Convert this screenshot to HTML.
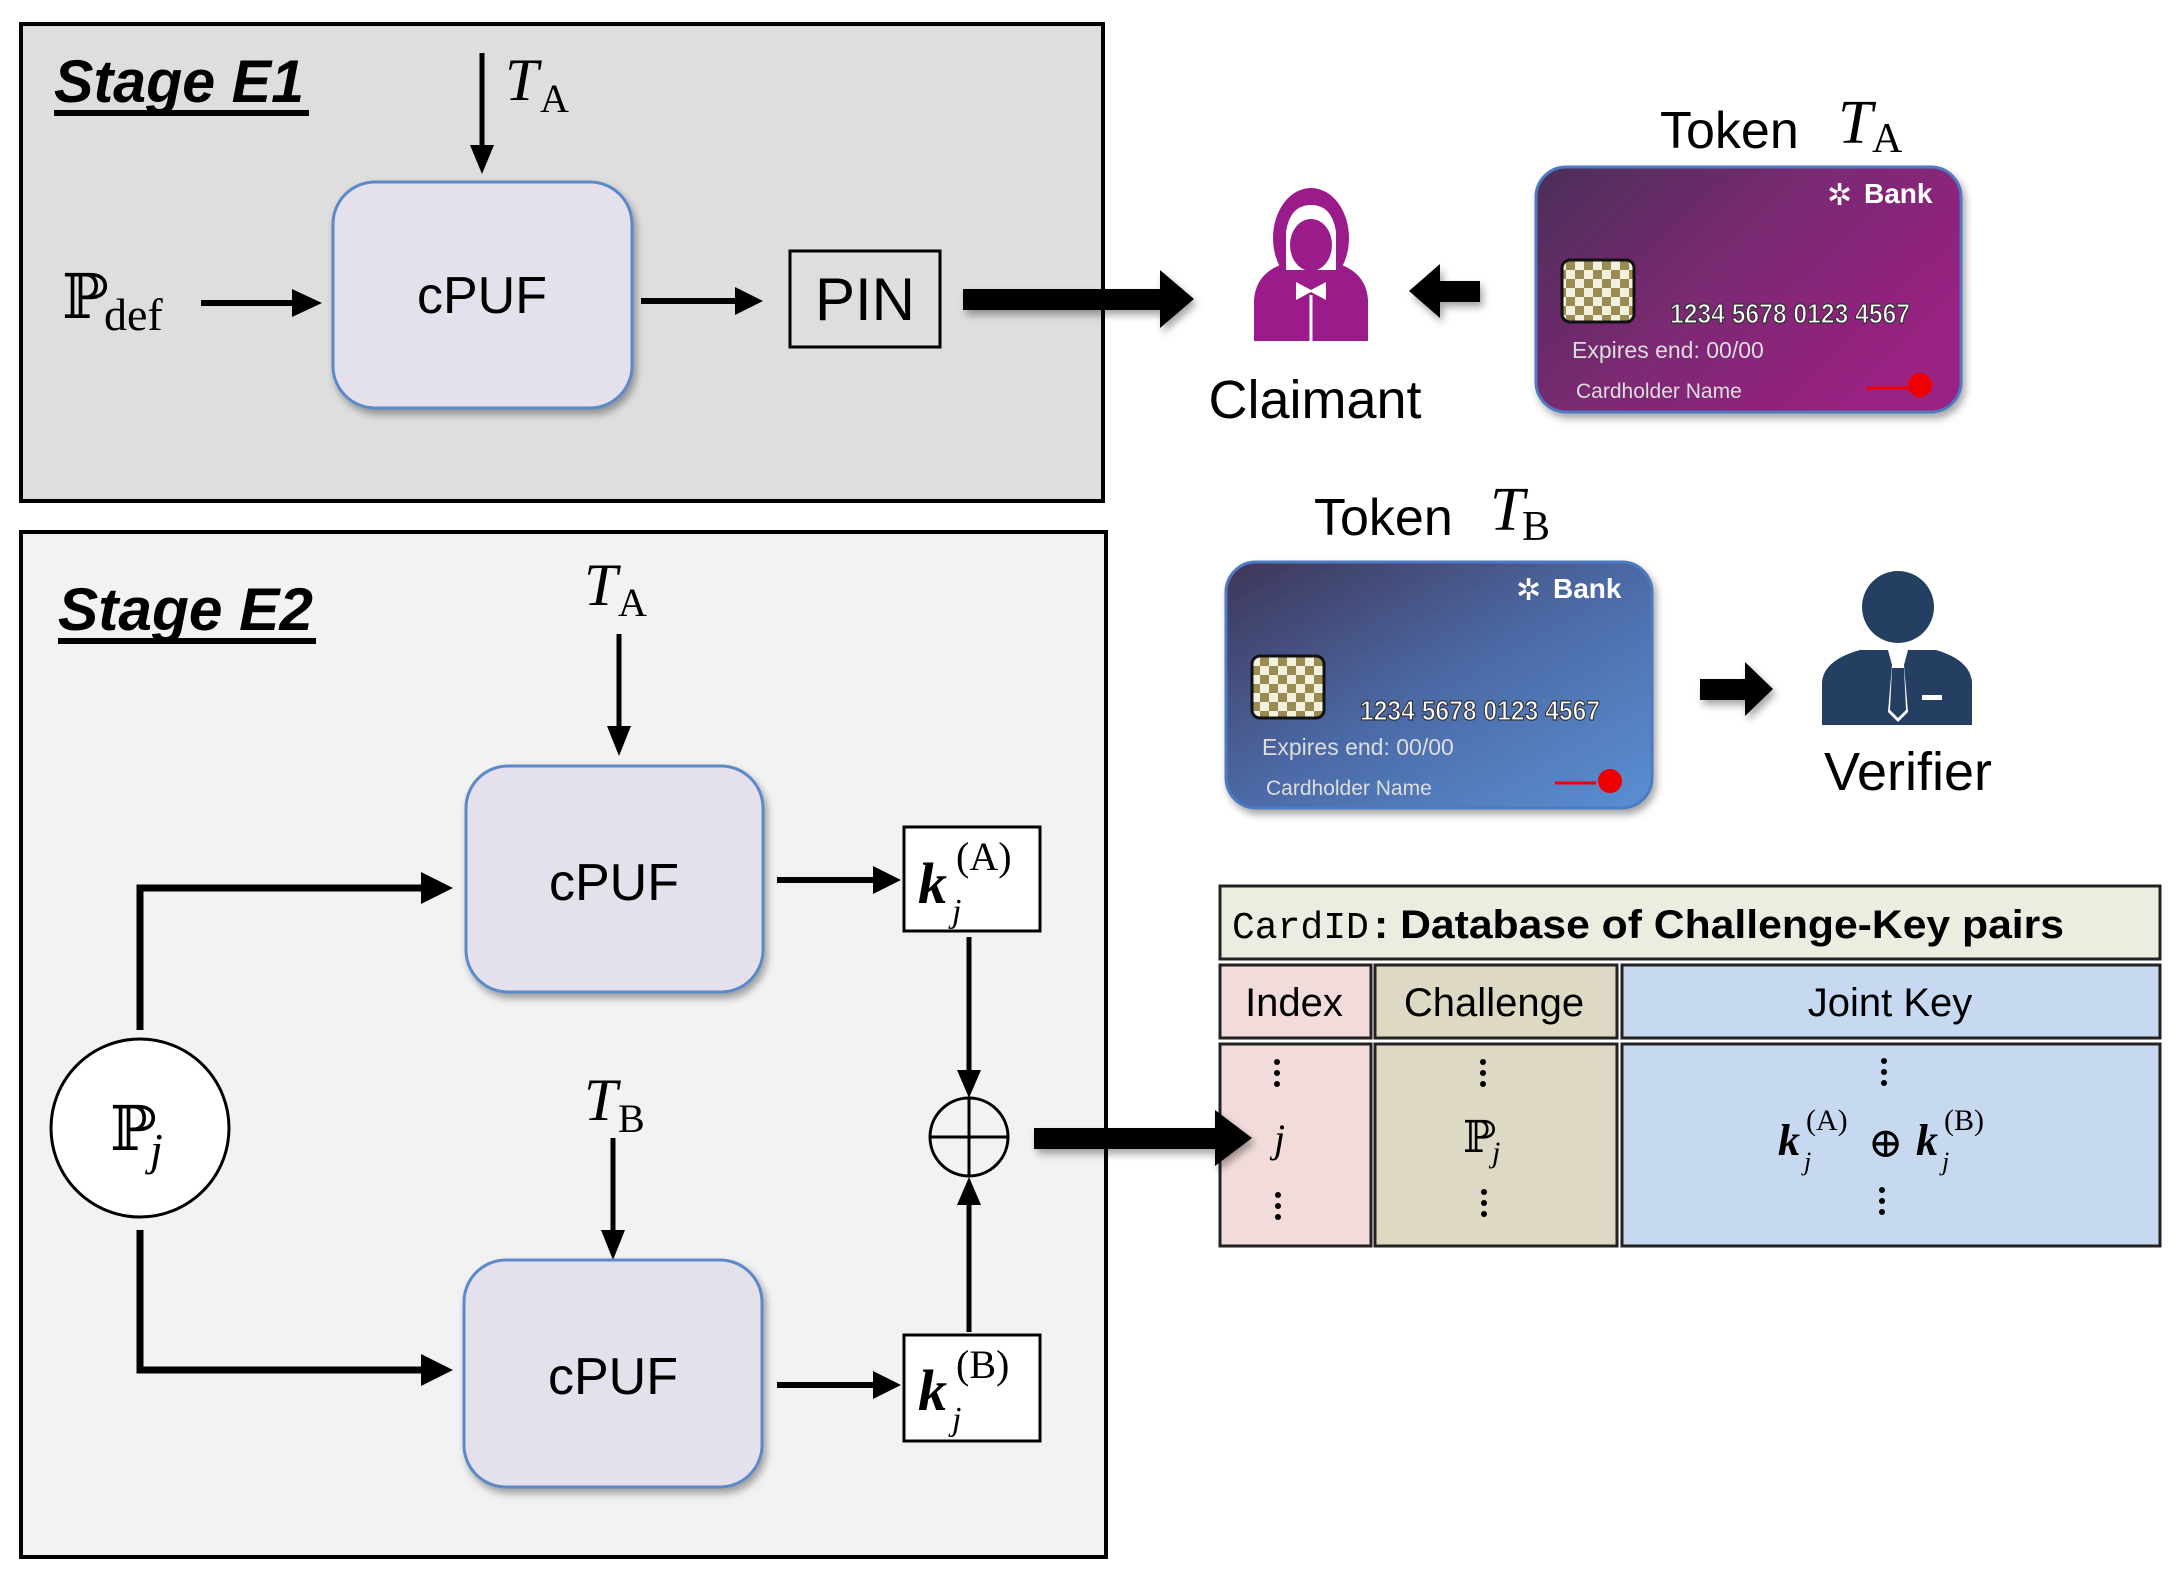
<!DOCTYPE html>
<html><head><meta charset="utf-8"><style>
html,body{margin:0;padding:0;background:#fff;}
svg{display:block;}
.s{font-family:"Liberation Sans",sans-serif;}
.m{font-family:"Liberation Serif","DejaVu Serif",serif;}
</style></head><body>
<svg width="2176" height="1581" viewBox="0 0 2176 1581" xmlns="http://www.w3.org/2000/svg">
<defs>
<linearGradient id="ga" x1="0" y1="0" x2="1" y2="0.6"><stop offset="0" stop-color="#4a2f58"/><stop offset="0.5" stop-color="#7a2a72"/><stop offset="1" stop-color="#9a2082"/></linearGradient>
<linearGradient id="gb" x1="0" y1="0" x2="1" y2="1"><stop offset="0" stop-color="#3e3558"/><stop offset="0.5" stop-color="#4c6aa6"/><stop offset="1" stop-color="#5a8fd4"/></linearGradient>
<pattern id="chk" width="18" height="18" patternUnits="userSpaceOnUse"><rect width="18" height="18" fill="#9a8c50"/><rect width="9" height="9" fill="#f4f0e0"/><rect x="9" y="9" width="9" height="9" fill="#f4f0e0"/></pattern>
<filter id="sh" x="-10%" y="-10%" width="130%" height="130%"><feDropShadow dx="3" dy="5" stdDeviation="4" flood-color="#000" flood-opacity="0.35"/></filter>
</defs>

<!-- Stage E1 -->
<rect x="21" y="24" width="1082" height="477" fill="#dedede" stroke="#000" stroke-width="4"/>
<text x="54" y="102" class="s" font-size="60" font-weight="bold" font-style="italic" textLength="250" lengthAdjust="spacingAndGlyphs">Stage E1</text>
<rect x="54" y="110" width="255" height="6" fill="#000"/>
<line x1="482" y1="53" x2="482" y2="150" stroke="#000" stroke-width="5"/>
<polygon points="470,145 494,145 482,174" fill="#000"/>
<text x="505" y="100" class="m" font-size="60" font-style="italic">T</text>
<text x="540" y="112" class="m" font-size="40">A</text>
<rect x="333" y="182" width="299" height="226" rx="42" fill="#e4e0ec" stroke="#5b8ac8" stroke-width="3" filter="url(#sh)"/>
<text x="482" y="313" class="s" font-size="52" text-anchor="middle">cPUF</text>
<text x="62" y="318" class="m" font-size="62">ℙ</text>
<text x="104" y="330" class="m" font-size="46">def</text>
<line x1="201" y1="303" x2="298" y2="303" stroke="#000" stroke-width="6"/>
<polygon points="292,289 292,317 322,303" fill="#000"/>
<line x1="641" y1="301" x2="740" y2="301" stroke="#000" stroke-width="6"/>
<polygon points="735,287 735,315 763,301" fill="#000"/>
<rect x="790" y="251" width="150" height="96" fill="none" stroke="#000" stroke-width="3"/>
<text x="865" y="320" class="s" font-size="60" text-anchor="middle">PIN</text>
<g filter="url(#sh)">
<rect x="963" y="289" width="200" height="21" fill="#000"/>
<polygon points="1160,270 1194,299 1160,328" fill="#000"/>
</g>

<!-- Claimant -->
<g fill="#9b1b8a">
<ellipse cx="1311" cy="238" rx="38" ry="50"/>
<path d="M1254,341 L1254,300 Q1256,270 1290,262 L1332,262 Q1366,270 1368,300 L1368,341 Z"/>
</g>
<path d="M1286,232 Q1290,205 1311,205 Q1332,205 1336,232 L1336,270 L1286,270 Z" fill="#fff"/>
<ellipse cx="1311" cy="245" rx="21" ry="26" fill="#9b1b8a"/>
<path d="M1296,282 L1311,290 L1326,282 L1326,300 L1311,292 L1296,300 Z" fill="#fff"/>
<line x1="1311" y1="295" x2="1311" y2="341" stroke="#fff" stroke-width="3"/>
<text x="1315" y="418" class="s" font-size="54" text-anchor="middle">Claimant</text>
<g filter="url(#sh)">
<rect x="1438" y="281" width="42" height="21" fill="#000"/>
<polygon points="1440,264 1409,291 1440,318" fill="#000"/>
</g>

<!-- Token A -->
<text x="1660" y="148" class="s" font-size="52">Token</text>
<text x="1838" y="143" class="m" font-size="62" font-style="italic">T</text>
<text x="1872" y="152" class="m" font-size="42">A</text>
<rect x="1536" y="167" width="425" height="245" rx="30" fill="url(#ga)" stroke="#4d7ac0" stroke-width="3" filter="url(#sh)"/>
<text x="1827" y="205" class="s" font-size="30" fill="#fff">✲</text>
<text x="1864" y="203" class="s" font-size="28" font-weight="bold" fill="#fff">Bank</text>
<rect x="1562" y="260" width="72" height="62" rx="8" fill="url(#chk)" stroke="#111" stroke-width="3"/>
<text x="1670" y="323" class="s" font-size="28" font-weight="bold" fill="#fff" stroke="#333" stroke-width="1.2" textLength="240" lengthAdjust="spacingAndGlyphs">1234 5678 0123 4567</text>
<text x="1572" y="358" class="s" font-size="23" fill="#ddd">Expires end:  00/00</text>
<text x="1576" y="398" class="s" font-size="21" fill="#ddd">Cardholder Name</text>
<line x1="1866" y1="388" x2="1908" y2="388" stroke="#e00" stroke-width="3"/>
<circle cx="1920" cy="385" r="12" fill="#e00"/>

<!-- Token B -->
<text x="1314" y="535" class="s" font-size="52">Token</text>
<text x="1490" y="530" class="m" font-size="62" font-style="italic">T</text>
<text x="1522" y="540" class="m" font-size="42">B</text>
<rect x="1226" y="562" width="426" height="246" rx="30" fill="url(#gb)" stroke="#4d7ac0" stroke-width="3" filter="url(#sh)"/>
<text x="1516" y="600" class="s" font-size="30" fill="#fff">✲</text>
<text x="1553" y="598" class="s" font-size="28" font-weight="bold" fill="#fff">Bank</text>
<rect x="1252" y="656" width="72" height="62" rx="8" fill="url(#chk)" stroke="#111" stroke-width="3"/>
<text x="1360" y="720" class="s" font-size="28" font-weight="bold" fill="#fff" stroke="#333" stroke-width="1.2" textLength="240" lengthAdjust="spacingAndGlyphs">1234 5678 0123 4567</text>
<text x="1262" y="755" class="s" font-size="23" fill="#ddd">Expires end:  00/00</text>
<text x="1266" y="795" class="s" font-size="21" fill="#ddd">Cardholder Name</text>
<line x1="1555" y1="783" x2="1596" y2="783" stroke="#e00" stroke-width="3"/>
<circle cx="1610" cy="781" r="12" fill="#e00"/>
<g filter="url(#sh)">
<rect x="1700" y="679" width="47" height="21" fill="#000"/>
<polygon points="1745,662 1773,689 1745,716" fill="#000"/>
</g>

<!-- Verifier -->
<g fill="#243f62">
<circle cx="1898" cy="607" r="36"/>
<path d="M1822,725 L1822,682 Q1824,660 1860,650 L1936,650 Q1970,660 1972,682 L1972,725 Z"/>
</g>
<path d="M1888,650 L1908,650 L1904,665 L1908,712 L1898,722 L1888,712 L1892,665 Z" fill="#fff"/>
<path d="M1892,668 L1904,668 L1906,710 L1898,718 L1890,710 Z" fill="#243f62"/>
<rect x="1922" y="695" width="20" height="5" fill="#fff"/>
<text x="1908" y="790" class="s" font-size="54" text-anchor="middle">Verifier</text>

<!-- Stage E2 -->
<rect x="21" y="532" width="1085" height="1025" fill="#f2f2f2" stroke="#000" stroke-width="4"/>
<text x="58" y="630" class="s" font-size="60" font-weight="bold" font-style="italic" textLength="255" lengthAdjust="spacingAndGlyphs">Stage E2</text>
<rect x="58" y="638" width="258" height="6" fill="#000"/>

<text x="584" y="605" class="m" font-size="60" font-style="italic">T</text>
<text x="618" y="616" class="m" font-size="40">A</text>
<line x1="619" y1="634" x2="619" y2="730" stroke="#000" stroke-width="5"/>
<polygon points="607,726 631,726 619,756" fill="#000"/>
<rect x="466" y="766" width="297" height="226" rx="42" fill="#e4e0ec" stroke="#5b8ac8" stroke-width="3" filter="url(#sh)"/>
<text x="614" y="900" class="s" font-size="52" text-anchor="middle">cPUF</text>

<text x="584" y="1120" class="m" font-size="60" font-style="italic">T</text>
<text x="618" y="1132" class="m" font-size="40">B</text>
<line x1="613" y1="1138" x2="613" y2="1234" stroke="#000" stroke-width="5"/>
<polygon points="601,1230 625,1230 613,1260" fill="#000"/>
<rect x="464" y="1260" width="298" height="227" rx="42" fill="#e4e0ec" stroke="#5b8ac8" stroke-width="3" filter="url(#sh)"/>
<text x="613" y="1394" class="s" font-size="52" text-anchor="middle">cPUF</text>

<ellipse cx="140" cy="1128" rx="89" ry="89" fill="#fff" stroke="#000" stroke-width="3"/>
<text x="110" y="1150" class="m" font-size="62">ℙ</text>
<text x="150" y="1165" class="m" font-size="46" font-style="italic">j</text>
<polyline points="140,1030 140,888 425,888" fill="none" stroke="#000" stroke-width="7"/>
<polygon points="421,872 421,904 453,888" fill="#000"/>
<polyline points="140,1230 140,1370 425,1370" fill="none" stroke="#000" stroke-width="7"/>
<polygon points="421,1354 421,1386 453,1370" fill="#000"/>

<line x1="777" y1="880" x2="878" y2="880" stroke="#000" stroke-width="6"/>
<polygon points="873,866 873,894 901,880" fill="#000"/>
<line x1="777" y1="1385" x2="878" y2="1385" stroke="#000" stroke-width="6"/>
<polygon points="873,1371 873,1399 901,1385" fill="#000"/>
<rect x="904" y="827" width="136" height="104" fill="#fff" stroke="#000" stroke-width="3"/>
<text x="918" y="903" class="m" font-size="58" font-weight="bold" font-style="italic">k</text>
<text x="952" y="922" class="m" font-size="34" font-style="italic">j</text>
<text x="956" y="870" class="m" font-size="40">(A)</text>
<rect x="904" y="1335" width="136" height="106" fill="#fff" stroke="#000" stroke-width="3"/>
<text x="918" y="1410" class="m" font-size="58" font-weight="bold" font-style="italic">k</text>
<text x="952" y="1430" class="m" font-size="34" font-style="italic">j</text>
<text x="956" y="1378" class="m" font-size="40">(B)</text>

<line x1="969" y1="937" x2="969" y2="1075" stroke="#000" stroke-width="5"/>
<polygon points="957,1070 981,1070 969,1098" fill="#000"/>
<line x1="969" y1="1332" x2="969" y2="1200" stroke="#000" stroke-width="5"/>
<polygon points="957,1205 981,1205 969,1177" fill="#000"/>
<circle cx="969" cy="1137" r="39" fill="none" stroke="#000" stroke-width="3"/>
<line x1="930" y1="1137" x2="1008" y2="1137" stroke="#000" stroke-width="3"/>
<line x1="969" y1="1098" x2="969" y2="1176" stroke="#000" stroke-width="3"/>

<!-- Table -->
<rect x="1220" y="886" width="940" height="73" fill="#eaeddf" stroke="#222" stroke-width="3"/>
<text x="1232" y="938" font-family="Liberation Mono,monospace" font-size="38">CardID</text>
<text x="1374" y="938" class="s" font-size="40" font-weight="bold" textLength="690" lengthAdjust="spacingAndGlyphs">: Database of Challenge-Key pairs</text>
<rect x="1220" y="965" width="151" height="73" fill="#f2dcdb" stroke="#222" stroke-width="3"/>
<rect x="1375" y="965" width="242" height="73" fill="#ddd9c4" stroke="#222" stroke-width="3"/>
<rect x="1622" y="965" width="538" height="73" fill="#c6d9f0" stroke="#222" stroke-width="3"/>
<text x="1294" y="1016" class="s" font-size="40" text-anchor="middle">Index</text>
<text x="1494" y="1016" class="s" font-size="40" text-anchor="middle">Challenge</text>
<text x="1890" y="1016" class="s" font-size="40" text-anchor="middle">Joint Key</text>
<rect x="1220" y="1044" width="151" height="202" fill="#f2dcdb" stroke="#222" stroke-width="3"/>
<rect x="1375" y="1044" width="242" height="202" fill="#ddd9c4" stroke="#222" stroke-width="3"/>
<rect x="1622" y="1044" width="538" height="202" fill="#c6d9f0" stroke="#222" stroke-width="3"/>
<g fill="#000">
<circle cx="1277" cy="1062" r="3"/><circle cx="1277" cy="1073" r="3"/><circle cx="1277" cy="1084" r="3"/>
<circle cx="1278" cy="1195" r="3"/><circle cx="1278" cy="1206" r="3"/><circle cx="1278" cy="1217" r="3"/>
<circle cx="1483" cy="1062" r="3"/><circle cx="1483" cy="1073" r="3"/><circle cx="1483" cy="1084" r="3"/>
<circle cx="1484" cy="1192" r="3"/><circle cx="1484" cy="1203" r="3"/><circle cx="1484" cy="1214" r="3"/>
<circle cx="1884" cy="1061" r="3"/><circle cx="1884" cy="1072" r="3"/><circle cx="1884" cy="1083" r="3"/>
<circle cx="1882" cy="1190" r="3"/><circle cx="1882" cy="1201" r="3"/><circle cx="1882" cy="1212" r="3"/>
</g>
<text x="1274" y="1152" class="m" font-size="40" font-style="italic">j</text>
<text x="1463" y="1152" class="m" font-size="44">ℙ</text>
<text x="1492" y="1162" class="m" font-size="30" font-style="italic">j</text>
<text x="1778" y="1155" class="m" font-size="44" font-weight="bold" font-style="italic">k</text>
<text x="1804" y="1170" class="m" font-size="26" font-style="italic">j</text>
<text x="1806" y="1130" class="m" font-size="30">(A)</text>
<text x="1868" y="1157" class="m" font-size="42">⊕</text>
<text x="1916" y="1155" class="m" font-size="44" font-weight="bold" font-style="italic">k</text>
<text x="1942" y="1170" class="m" font-size="26" font-style="italic">j</text>
<text x="1944" y="1130" class="m" font-size="30">(B)</text>

<!-- xor -> table arrow (on top) -->
<g filter="url(#sh)">
<rect x="1034" y="1128" width="184" height="21" fill="#000"/>
<polygon points="1215,1110 1252,1138 1215,1166" fill="#000"/>
</g>
</svg>
</body></html>
